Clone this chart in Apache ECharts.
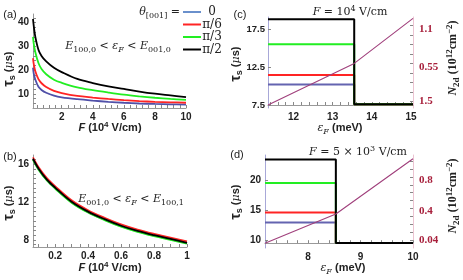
<!DOCTYPE html>
<html><head><meta charset="utf-8">
<script src="https://cdn.jsdelivr.net/npm/echarts@6/dist/echarts.min.js"></script>
<style>html,body{margin:0;padding:0;background:#fff}#c{width:463px;height:280px}</style>
</head><body><div id="c"></div>
<script>
// ---------- data ----------
const thetaLabels = ['0', 'π/6', 'π/3', 'π/2'];
const curveColors = ['#5050a8', '#ff2424', '#22ee22', '#000000'];
const legendColors = ['#6a90cc', '#ff2424', '#22ee22', '#000000'];

// panel (a): F in 10^4 V/cm, tau in us
const aF      = [0.15, 0.2, 0.3, 0.5, 0.7, 1, 1.5, 2, 3, 4, 5, 6, 7, 8, 9, 10];
const aTau0   = [21, 18.5, 16, 13, 11.7, 10.5, 9.3, 8.6, 7.8, 7.2, 6.7, 6.3, 6.0, 5.8, 5.65, 5.5];
const aTau30  = [25, 22.5, 19.5, 16.2, 14.5, 12.9, 11.3, 10.4, 9.2, 8.5, 7.9, 7.4, 7.0, 6.7, 6.5, 6.3];
const aTau60  = [34, 31, 27.5, 23, 20.5, 18.3, 16, 14.7, 12.8, 11.6, 10.6, 9.7, 9.0, 8.4, 7.9, 7.5];
const aTau90  = [41.5, 38.5, 34, 28.6, 26, 23.7, 21, 19.2, 16.3, 14.6, 13.2, 12.1, 11.0, 10.1, 9.4, 8.7];
const aXTicks = [2, 4, 6, 8, 10];
const aYTicks = [10, 20, 30, 40];

// panel (b)
const bF      = [0.066, 0.1, 0.15, 0.2, 0.3, 0.4, 0.5, 0.6, 0.7, 0.8, 0.9, 1.0];
const bTau0   = [16.55, 15.5, 14.35, 13.5, 12.0, 10.95, 10.15, 9.45, 8.9, 8.45, 8.05, 7.65];
const bTau30  = [16.75, 15.7, 14.55, 13.7, 12.2, 11.15, 10.35, 9.65, 9.1, 8.65, 8.25, 7.85];
const bTau60  = [16.5, 15.45, 14.3, 13.45, 11.95, 10.9, 10.1, 9.4, 8.85, 8.4, 8.0, 7.6];
const bTau90  = [16.6, 15.55, 14.4, 13.55, 12.05, 11.0, 10.2, 9.5, 8.95, 8.5, 8.1, 7.7];
const bXTicks = [0.2, 0.4, 0.6, 0.8, 1];
const bYTicks = [8, 12, 16];

// panel (c): F = 1e4 V/cm
const cEps       = [11.35, 13.55, 15.05];       // start, step, end (meV)
const cTauBefore = [10.2, 11.45, 15.5, 18.8];   // theta = 0, pi/6, pi/3, pi/2
const cTauAfter  = [7.6, 7.6, 7.6, 7.6];
const cN2d       = [0.0, 0.60, 1.25];
const cXTicks = [12, 13, 14, 15];
const cYTicks = [7.5, 12.5, 17.5];
const cRTickValues = [0.05, 0.55, 1.1];
const cRTickLabels = ['1.5', '0.55', '1.1'];

// panel (d): F = 5e3 V/cm
const dEps       = [7.18, 8.53, 10.0];
const dTauBefore = [12.9, 14.6, 19.5, 23.4];
const dTauAfter  = [9.5, 9.5, 9.5, 9.5];
const dN2d       = [0.0, 0.37, 1.07];
const dXTicks = [8, 9, 10];
const dYTicks = [10, 15, 20];
const dRTickValues = [0.04, 0.4, 0.8];
const dRTickLabels = ['0.04', '0.4', '0.8'];

// ---------- helpers ----------
function range(a, b, step) { const r = []; for (let v = a; v <= b + 1e-9; v += step) r.push(+v.toFixed(4)); return r; }
const tickFont = { fontFamily: 'Liberation Sans', fontWeight: 'bold', fontSize: 10, color: '#222' };
const redFont = { fontFamily: 'Liberation Serif', fontWeight: 'bold', fontSize: 11, color: '#a8203c' };

function valAxis(gridIndex, min, max, labels, ticks, lineColor, extra) {
  return Object.assign({
    type: 'value', gridIndex, min, max,
    axisLine: { show: true, lineStyle: { color: lineColor, width: 1 } },
    axisTick: { show: true, inside: true, length: 3, customValues: ticks, lineStyle: { color: '#888' } },
    axisLabel: Object.assign({ customValues: labels, margin: 4 }, tickFont),
    splitLine: { show: false }
  }, extra || {});
}

const grids = [
  { left: 33, top: 14, width: 153, height: 94 },
  { left: 33, top: 155, width: 154, height: 92 },
  { left: 268, top: 17, width: 145, height: 91 },
  { left: 265, top: 155, width: 148, height: 93 }
];

const xAxes = [
  valAxis(0, 0.15, 10, aXTicks, range(0.4, 10, 0.4), '#999'),
  valAxis(1, 0.066, 1, bXTicks, range(0.1, 1, 0.05), '#999'),
  valAxis(2, 11.35, 15.05, cXTicks, range(11.4, 15, 0.2), '#999'),
  valAxis(3, 7.18, 10, dXTicks, range(7.2, 10, 0.2), '#999')
];
const yAxes = [
  valAxis(0, 4.1, 43.6, aYTicks, range(6, 42, 2), '#999'),
  valAxis(1, 7.25, 17, bYTicks, range(7.5, 16.5, 0.5), '#999'),
  valAxis(2, 7.1, 19.1, cYTicks, cYTicks, '#a8a8d8', { axisLabel: Object.assign({ customValues: cYTicks, margin: 3 }, tickFont, { fontSize: 9.5 }) }),
  valAxis(3, 8.67, 24.17, dYTicks, dYTicks, '#a8a8d8'),
  valAxis(2, -0.043, 1.27, cRTickValues, range(0.05, 1.25, 0.1375), '#ecc4d2', {
    position: 'right',
    axisLabel: Object.assign({ customValues: cRTickValues, margin: 6,
      formatter: v => cRTickLabels[cRTickValues.findIndex(t => Math.abs(t - v) < 1e-6)] }, redFont)
  }),
  valAxis(3, -0.061, 1.117, dRTickValues, range(0.04, 1.04, 0.1), '#ecc4d2', {
    position: 'right',
    axisLabel: Object.assign({ customValues: dRTickValues, margin: 6,
      formatter: v => dRTickLabels[dRTickValues.findIndex(t => Math.abs(t - v) < 1e-6)] }, redFont)
  })
];

const series = [];
function curve(xi, yi, xs, ys, color, w) {
  series.push({ type: 'line', xAxisIndex: xi, yAxisIndex: yi, smooth: 0.35, showSymbol: false, symbol: 'none',
    data: xs.map((x, i) => [x, ys[i]]), lineStyle: { color, width: w }, z: 2 });
}
const aSets = [aTau0, aTau30, aTau60, aTau90];
aSets.forEach((s, i) => curve(0, 0, aF, s, curveColors[i], 1.8));
const bSets = [bTau0, bTau60, bTau30, bTau90];
const bCols = [curveColors[0], curveColors[2], curveColors[1], curveColors[3]];
bSets.forEach((s, i) => curve(1, 1, bF, s, bCols[i], 1.8));

function steps(xi, yi, eps, before, after) {
  before.forEach((v, i) => {
    series.push({ type: 'line', xAxisIndex: xi, yAxisIndex: yi, showSymbol: false, symbol: 'none',
      data: [[eps[0], v], [eps[1], v], [eps[1], after[i]], [eps[2], after[i]]],
      lineStyle: { color: i === 0 ? '#6464b0' : curveColors[i], width: 2 }, z: 2 });
  });
}
steps(2, 2, cEps, cTauBefore, cTauAfter);
steps(3, 3, dEps, dTauBefore, dTauAfter);
series.push({ type: 'line', xAxisIndex: 2, yAxisIndex: 4, showSymbol: false, symbol: 'none',
  data: cEps.map((x, i) => [x, cN2d[i]]), lineStyle: { color: '#a0407c', width: 1.1 }, z: 3 });
series.push({ type: 'line', xAxisIndex: 3, yAxisIndex: 5, showSymbol: false, symbol: 'none',
  data: dEps.map((x, i) => [x, dN2d[i]]), lineStyle: { color: '#a0407c', width: 1.1 }, z: 3 });

// ---------- text ----------
const M = 'DejaVu Serif';
const mathRich = {
  i: { fontFamily: M, fontStyle: 'italic', fontSize: 11, color: '#222' },
  n: { fontFamily: M, fontSize: 11, color: '#222' },
  s: { fontFamily: M, fontSize: 8, color: '#222', padding: [7, 0, 0, 0] },
  si: { fontFamily: M, fontStyle: 'italic', fontSize: 8, color: '#222', padding: [7, 0, 0, 0] },
  p: { fontFamily: M, fontSize: 8, color: '#222', padding: [0, 0, 7, 0] }
};
const sansB = 'Liberation Sans';
const axRich = {
  b: { fontFamily: sansB, fontWeight: 'bold', fontSize: 11, color: '#222' },
  bi: { fontFamily: sansB, fontWeight: 'bold', fontStyle: 'italic', fontSize: 11, color: '#222' },
  t: { fontFamily: sansB, fontWeight: 'bold', fontSize: 14, color: '#222' },
  s: { fontFamily: sansB, fontWeight: 'bold', fontSize: 9, color: '#222', padding: [7, 0, 0, 0] },
  p: { fontFamily: sansB, fontWeight: 'bold', fontSize: 8, color: '#222', padding: [0, 0, 7, 0] },
  ms: { fontFamily: M, fontStyle: 'italic', fontSize: 11, color: '#222' },
  mss: { fontFamily: M, fontStyle: 'italic', fontSize: 8, color: '#222', padding: [7, 0, 0, 0] }
};
const RC = '#a8203c';
const nRich = {
  b: { fontFamily: 'Liberation Serif', fontWeight: 'bold', fontSize: 12, color: RC },
  bi: { fontFamily: 'Liberation Serif', fontWeight: 'bold', fontStyle: 'italic', fontSize: 12, color: RC },
  s: { fontFamily: 'Liberation Serif', fontWeight: 'bold', fontSize: 9, color: RC, padding: [7, 0, 0, 0] },
  p: { fontFamily: 'Liberation Serif', fontWeight: 'bold', fontSize: 9, color: RC, padding: [0, 0, 7, 0] }
};
function txt(x, y, text, rich, rot, align) {
  return { type: 'text', x, y, rotation: rot || 0, z: 10,
    style: { text, rich, align: align || 'center', verticalAlign: 'middle',
      textAlign: align || 'center', textVerticalAlign: 'middle', fill: '#222',
      font: '11px Liberation Sans' } };
}
const plain = { r: { fontFamily: 'Liberation Sans', fontSize: 11, color: '#222' } };
const tauLabel = '{t|τ}{s|s} {b|(}{ms|μ}{b|s)}';
const graphic = [
  txt(10, 15, '{r|(a)}', plain), txt(10, 157, '{r|(b)}', plain),
  txt(240, 15, '{r|(c)}', plain), txt(237, 155, '{r|(d)}', plain),
  txt(9, 69, tauLabel, axRich, Math.PI / 2),
  txt(9, 203, tauLabel, axRich, Math.PI / 2),
  txt(236, 64, tauLabel, axRich, Math.PI / 2),
  txt(236, 202, tauLabel, axRich, Math.PI / 2),
  txt(110, 128, '{bi|F} {b|(10}{p|4}{b| V/cm)}', axRich),
  txt(110, 268, '{bi|F} {b|(10}{p|4}{b| V/cm)}', axRich),
  txt(340, 128, '{ms|ε}{mss|F} {b|(meV)}', axRich),
  txt(343, 268, '{ms|ε}{mss|F} {b|(meV)}', axRich),
  txt(453, 58, '{bi|N}{s|2d} {b|(10}{p|12}{b|cm}{p|−2}{b|)}', nRich, Math.PI / 2),
  txt(453, 196, '{bi|N}{s|2d} {b|(10}{p|12}{b|cm}{p|−2}{b|)}', nRich, Math.PI / 2),
  txt(118, 46, '{i|E}{s|100,0}{n| < }{i|ε}{si|F}{n| < }{i|E}{s|001,0}', mathRich),
  txt(131, 199, '{i|E}{s|001,0}{n| < }{i|ε}{si|F}{n| < }{i|E}{s|100,1}', mathRich),
  txt(350, 12, '{i|F}{n| = 10}{p|4}{n| V/cm}', mathRich),
  txt(358, 152, '{i|F}{n| = 5 × 10}{p|3}{n| V/cm}', mathRich),
  txt(180, 12, '{i|θ}{s|[001]}{n| =}', mathRich, 0, 'right')
];
const legendY = [12, 24.5, 37, 49.5];
thetaLabels.forEach((lab, i) => {
  graphic.push({ type: 'line', z: 10, shape: { x1: 183, y1: legendY[i], x2: 201, y2: legendY[i] },
    style: { stroke: legendColors[i], lineWidth: 2 } });
  graphic.push(txt(212, legendY[i], '{n|' + lab + '}', { n: { fontFamily: M, fontSize: 12, color: '#222' } }));
});

const chart = echarts.init(document.getElementById('c'));
chart.setOption({
  animation: false,
  grid: grids,
  xAxis: xAxes,
  yAxis: yAxes,
  series,
  graphic
});
</script>
</body></html>
